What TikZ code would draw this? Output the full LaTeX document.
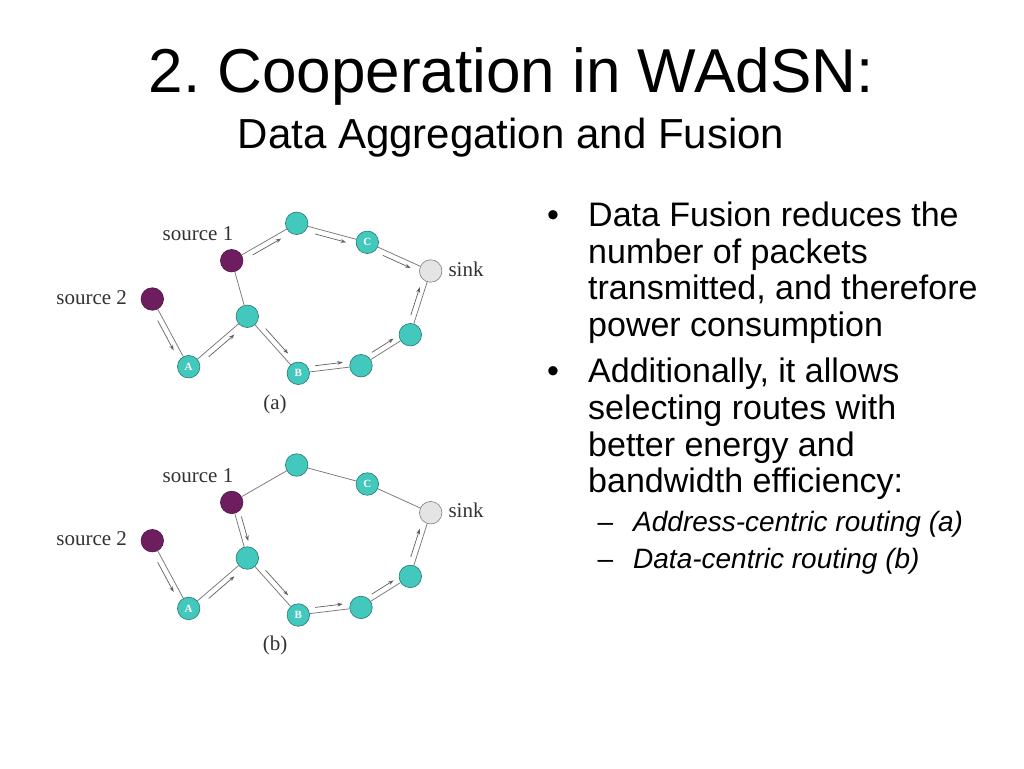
\documentclass[tikz,border=0pt]{standalone}
\usepackage{fontspec}
\setmainfont{Liberation Sans}
\newfontfamily\lblfont{Liberation Serif}
\usetikzlibrary{calc,arrows.meta}
\definecolor{tealnode}{RGB}{66,200,188}
\definecolor{tealborder}{RGB}{40,120,112}
\definecolor{purplenode}{RGB}{110,30,95}
\definecolor{sinkfill}{RGB}{228,228,228}
\definecolor{edgegray}{RGB}{120,120,120}
\definecolor{lblgray}{RGB}{50,50,50}
\tikzset{
  nd/.style={circle, draw=tealborder, fill=tealnode, minimum size=22.5pt, inner sep=0pt, line width=0.6pt, text=white, font=\lblfont\bfseries\fontsize{11}{11}\selectfont},
  srcnd/.style={nd, draw=purplenode!70!black, fill=purplenode},
  sinknd/.style={nd, draw=gray, fill=sinkfill},
  edge/.style={draw=edgegray, line width=0.75pt},
  flowarr/.style={draw=edgegray!80!black, line width=0.7pt, -{Stealth[length=5.5pt,width=3.8pt]}},
  lbl/.style={text=lblgray, inner sep=0pt, font=\lblfont\fontsize{21}{24}\selectfont},
  bodyline/.style={anchor=base west, inner sep=0pt, font=\fontsize{34}{40}\selectfont},
  subline/.style={anchor=base west, inner sep=0pt, font=\fontsize{28}{32}\selectfont\itshape},
  bulletmark/.style={anchor=base, inner sep=0pt, font=\fontsize{34}{40}\selectfont},
  dashmark/.style={anchor=base, inner sep=0pt, font=\fontsize{28}{32}\selectfont}
}
\newcommand\flw[3]{\draw[flowarr] ($(#1)!0.28!(#2)!#3!90:(#2)$) -- ($(#1)!0.72!(#2)!#3!-90:(#1)$);}
\frenchspacing
\begin{document}
\begin{tikzpicture}[x=1pt,y=-1pt]
\useasboundingbox[fill=white] (0,0) rectangle (1024,768);

% titles
\node[anchor=base, inner sep=0pt, font=\fontsize{62}{70}\selectfont] (title) at (511,92.7) {2. Cooperation in WAdSN:};
\node[anchor=base, inner sep=0pt, font=\fontsize{42}{48}\selectfont] (subtitle) at (511,148.3) {Data Aggregation and Fusion};

% bullets
\node[bulletmark] (b1) at (553,226.3) {•};
\node[bodyline] (l1) at (588,226.3) {Data Fusion reduces the};
\node[bodyline] (l2) at (588,263.0) {number of packets};
\node[bodyline] (l3) at (588,299.7) {transmitted, and therefore};
\node[bodyline] (l4) at (588,336.4) {power consumption};
\node[bulletmark] (b2) at (553,382.7) {•};
\node[bodyline] (l5) at (588,382.7) {Additionally, it allows};
\node[bodyline] (l6) at (588,419.4) {selecting routes with};
\node[bodyline] (l7) at (588,456.1) {better energy and};
\node[bodyline] (l8) at (588,492.8) {bandwidth efficiency:};
\node[dashmark] (d1) at (605.5,531.7) {–};
\node[subline] (s1) at (633,531.7) {Address-centric routing (a)};
\node[dashmark] (d2) at (605.5,568.7) {–};
\node[subline] (s2) at (633,568.7) {Data-centric routing (b)};

% ---------- network (a)
\node[nd] (a-n1) at (296.7,223.3) {};
\node[nd] (a-C) at (367.3,242.3) {C};
\node[sinknd] (a-sink) at (430.7,271) {};
\node[srcnd] (a-s1) at (231.7,260.7) {};
\node[srcnd] (a-s2) at (152.3,299) {};
\node[nd] (a-m) at (247.3,316.3) {};
\node[nd] (a-A) at (188.7,366.7) {A};
\node[nd] (a-B) at (298.3,373.3) {B};
\node[nd] (a-n2) at (361,365.7) {};
\node[nd] (a-n3) at (410.3,334.7) {};
\node[lbl, anchor=base] (a-ls1) at (198,240.7) {source 1};
\node[lbl, anchor=base] (a-ls2) at (91.7,304) {source 2};
\node[lbl, anchor=base west] (a-lsink) at (448.3,276) {sink};
\node[lbl, anchor=base] (a-cap) at (275,409) {(a)};
\draw[edge] (a-s2) -- (a-A);
\draw[edge] (a-A) -- (a-m);
\draw[edge] (a-m) -- (a-s1);
\draw[edge] (a-s1) -- (a-n1);
\draw[edge] (a-n1) -- (a-C);
\draw[edge] (a-C) -- (a-sink);
\draw[edge] (a-m) -- (a-B);
\draw[edge] (a-B) -- (a-n2);
\draw[edge] (a-n2) -- (a-n3);
\draw[edge] (a-n3) -- (a-sink);
\flw{a-s2}{a-A}{-5.5pt}
\flw{a-A}{a-m}{-5.5pt}
\flw{a-m}{a-B}{5.5pt}
\flw{a-B}{a-n2}{5.5pt}
\flw{a-n2}{a-n3}{5.5pt}
\flw{a-n3}{a-sink}{5.5pt}
\flw{a-s1}{a-n1}{-5.5pt}
\flw{a-n1}{a-C}{-5.5pt}
\flw{a-C}{a-sink}{-5.5pt}

% ---------- network (b)
\begin{scope}[shift={(0,241.7)}]
\node[nd] (b-n1) at (296.7,223.3) {};
\node[nd] (b-C) at (367.3,242.3) {C};
\node[sinknd] (b-sink) at (430.7,271) {};
\node[srcnd] (b-s1) at (231.7,260.7) {};
\node[srcnd] (b-s2) at (152.3,299) {};
\node[nd] (b-m) at (247.3,316.3) {};
\node[nd] (b-A) at (188.7,366.7) {A};
\node[nd] (b-B) at (298.3,373.3) {B};
\node[nd] (b-n2) at (361,365.7) {};
\node[nd] (b-n3) at (410.3,334.7) {};
\node[lbl, anchor=base] (b-ls1) at (198,240.7) {source 1};
\node[lbl, anchor=base] (b-ls2) at (91.7,304) {source 2};
\node[lbl, anchor=base west] (b-lsink) at (448.3,276) {sink};
\node[lbl, anchor=base] (b-cap) at (275,409) {(b)};
\end{scope}
\draw[edge] (b-s2) -- (b-A);
\draw[edge] (b-A) -- (b-m);
\draw[edge] (b-m) -- (b-s1);
\draw[edge] (b-s1) -- (b-n1);
\draw[edge] (b-n1) -- (b-C);
\draw[edge] (b-C) -- (b-sink);
\draw[edge] (b-m) -- (b-B);
\draw[edge] (b-B) -- (b-n2);
\draw[edge] (b-n2) -- (b-n3);
\draw[edge] (b-n3) -- (b-sink);
\flw{b-s2}{b-A}{-5.5pt}
\flw{b-A}{b-m}{-5.5pt}
\flw{b-s1}{b-m}{5.5pt}
\flw{b-m}{b-B}{5.5pt}
\flw{b-B}{b-n2}{5.5pt}
\flw{b-n2}{b-n3}{5.5pt}
\flw{b-n3}{b-sink}{5.5pt}
\end{tikzpicture}
\end{document}
